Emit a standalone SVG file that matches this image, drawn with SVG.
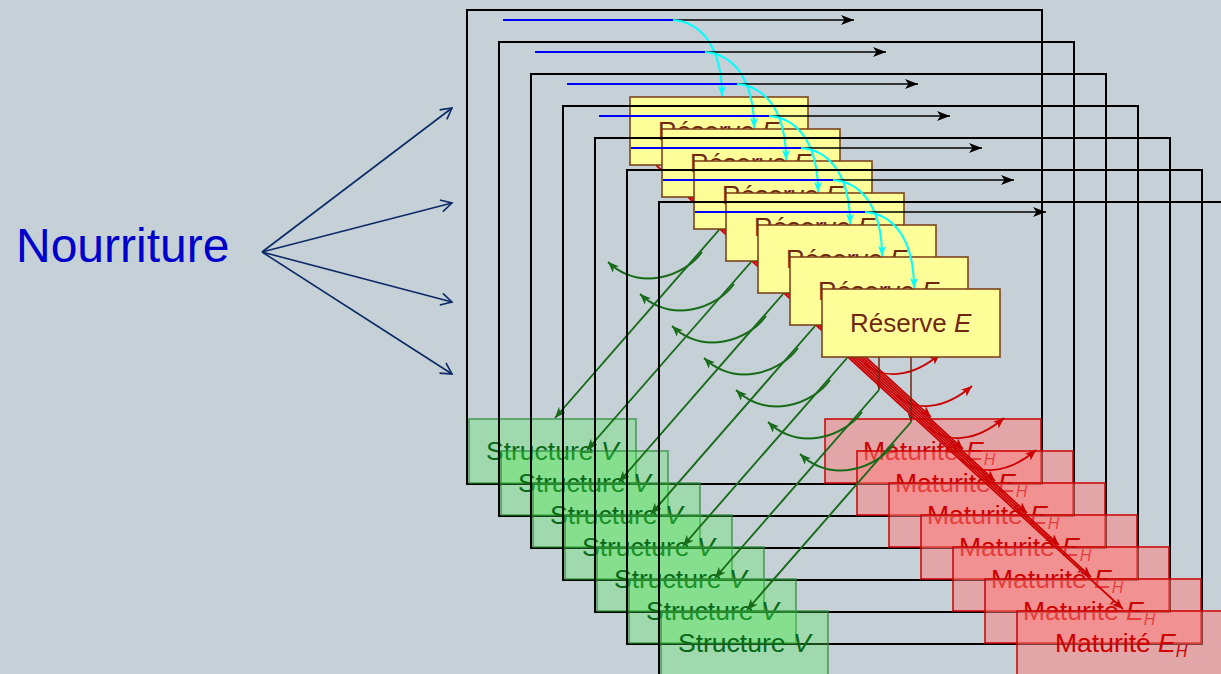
<svg xmlns="http://www.w3.org/2000/svg" width="1221" height="674" viewBox="0 0 1221 674">
<style>
.frame{fill:none;stroke:#000;stroke-width:2}
.blk{stroke:#000;stroke-width:1.6;marker-end:url(#mBlack)}
.blu{stroke:#0000ff;stroke-width:2}
.cy{fill:none;stroke:#00ffff;stroke-width:2;marker-end:url(#mCyan)}
.br{stroke:#6e2a10;stroke-width:1.5;marker-end:url(#mBrown)}
.gr{fill:none;stroke:#176a17;stroke-width:1.9;marker-end:url(#mGreen)}
.rd{fill:none;stroke:#cc0000;stroke-width:1.7;marker-end:url(#mRed)}
.nv{fill:none;stroke:#0c2a66;stroke-width:1.6;marker-end:url(#mNavy)}
text{font-family:"Liberation Sans",Arial,sans-serif;font-size:26px}
.reserve rect{fill:#ffff99;stroke:#7a3a14;stroke-width:1.5}
.reserve text{fill:#6e2810}
.structure rect{fill:rgb(77,240,77);fill-opacity:0.3;stroke:#2a8a36;stroke-width:1.5;stroke-opacity:0.8}
.structure text{fill:#0a6a18;font-size:26.5px}
.maturite rect{fill:#ff7c7a;fill-opacity:0.5;stroke:#cc0000;stroke-width:1.5}
.maturite text{fill:#cc0000;font-size:26.5px}
.it{font-style:italic}
.sub{font-style:italic;font-size:16px}
.title{font-size:48px;fill:#0000cc}
</style>
<defs>
<marker id="mBlack" markerUnits="userSpaceOnUse" markerWidth="13" markerHeight="11" refX="13" refY="5.5" orient="auto"><path d="M0,0.5 L13,5.5 L0,10.5 L3.5,5.5 z" fill="#000"/></marker>
<marker id="mCyan" markerUnits="userSpaceOnUse" markerWidth="10" markerHeight="8" refX="10" refY="4" orient="auto"><path d="M0,0 L10,4 L0,8 L2.5,4 z" fill="#00ffff"/></marker>
<marker id="mBrown" markerUnits="userSpaceOnUse" markerWidth="9" markerHeight="7" refX="9" refY="3.5" orient="auto"><path d="M0,0 L9,3.5 L0,7 L2.5,3.5 z" fill="#6e2a10"/></marker>
<marker id="mGreen" markerUnits="userSpaceOnUse" markerWidth="11" markerHeight="9" refX="11" refY="4.5" orient="auto"><path d="M0,0 L11,4.5 L0,9 L3,4.5 z" fill="#176a17"/></marker>
<marker id="mRed" markerUnits="userSpaceOnUse" markerWidth="11" markerHeight="9" refX="11" refY="4.5" orient="auto"><path d="M0,0 L11,4.5 L0,9 L3,4.5 z" fill="#cc0000"/></marker>
<marker id="mNavy" markerUnits="userSpaceOnUse" markerWidth="14" markerHeight="14" refX="12" refY="7" orient="auto" overflow="visible"><path d="M1,1 L12,7 L1,13" fill="none" stroke="#0c2a66" stroke-width="1.6"/></marker>
</defs>
<rect width="1221" height="674" fill="#c5d0d7"/>

<g id="nourriture"><text class="title" x="16" y="262">Nourriture</text></g>
<g id="connectors-food">
<line class="nv" x1="262" y1="252" x2="452" y2="108"/>
<line class="nv" x1="262" y1="252" x2="452" y2="203"/>
<line class="nv" x1="262" y1="252" x2="452" y2="302"/>
<line class="nv" x1="262" y1="252" x2="452" y2="374"/>
</g>

<g id="layer-0">
<rect class="frame" x="467" y="10" width="575" height="474"/>
<g id="connectors-0">
<line class="blk" x1="673" y1="20" x2="854" y2="20"/>
<line class="blu" x1="503" y1="20" x2="673" y2="20"/>
<path class="cy" d="M673,20 C700,22 722,45 722,96"/>
<line class="br" x1="719" y1="165" x2="719" y2="230"/>
<line class="gr" x1="719" y1="230" x2="555" y2="418"/>
<path class="gr" d="M702,252 C685,276 640,292 608,262"/>
<line class="rd" x1="656" y1="165" x2="931" y2="417"/>
<path class="rd" d="M768,267 C785,283 815,283 844,258"/>
</g>
<g id="reserve-0" class="reserve"><rect x="630" y="97" width="178" height="68"/><text x="658" y="140">Réserve <tspan class="it">E</tspan></text></g>
<g id="structure-0" class="structure"><rect x="469" y="419" width="167" height="64"/><text x="486" y="460">Structure <tspan class="it">V</tspan></text></g>
<g id="maturite-0" class="maturite"><rect x="825" y="419" width="216" height="64"/><text x="863" y="460">Maturité <tspan class="it">E</tspan><tspan class="sub" dy="5">H</tspan></text></g>
</g>

<g id="layer-1" transform="translate(32,32)">
<rect class="frame" x="467" y="10" width="575" height="474"/>
<g id="connectors-1">
<line class="blk" x1="673" y1="20" x2="854" y2="20"/>
<line class="blu" x1="503" y1="20" x2="673" y2="20"/>
<path class="cy" d="M673,20 C700,22 722,45 722,96"/>
<line class="br" x1="719" y1="165" x2="719" y2="230"/>
<line class="gr" x1="719" y1="230" x2="555" y2="418"/>
<path class="gr" d="M702,252 C685,276 640,292 608,262"/>
<line class="rd" x1="656" y1="165" x2="931" y2="417"/>
<path class="rd" d="M768,267 C785,283 815,283 844,258"/>
</g>
<g id="reserve-1" class="reserve"><rect x="630" y="97" width="178" height="68"/><text x="658" y="140">Réserve <tspan class="it">E</tspan></text></g>
<g id="structure-1" class="structure"><rect x="469" y="419" width="167" height="64"/><text x="486" y="460">Structure <tspan class="it">V</tspan></text></g>
<g id="maturite-1" class="maturite"><rect x="825" y="419" width="216" height="64"/><text x="863" y="460">Maturité <tspan class="it">E</tspan><tspan class="sub" dy="5">H</tspan></text></g>
</g>

<g id="layer-2" transform="translate(64,64)">
<rect class="frame" x="467" y="10" width="575" height="474"/>
<g id="connectors-2">
<line class="blk" x1="673" y1="20" x2="854" y2="20"/>
<line class="blu" x1="503" y1="20" x2="673" y2="20"/>
<path class="cy" d="M673,20 C700,22 722,45 722,96"/>
<line class="br" x1="719" y1="165" x2="719" y2="230"/>
<line class="gr" x1="719" y1="230" x2="555" y2="418"/>
<path class="gr" d="M702,252 C685,276 640,292 608,262"/>
<line class="rd" x1="656" y1="165" x2="931" y2="417"/>
<path class="rd" d="M768,267 C785,283 815,283 844,258"/>
</g>
<g id="reserve-2" class="reserve"><rect x="630" y="97" width="178" height="68"/><text x="658" y="140">Réserve <tspan class="it">E</tspan></text></g>
<g id="structure-2" class="structure"><rect x="469" y="419" width="167" height="64"/><text x="486" y="460">Structure <tspan class="it">V</tspan></text></g>
<g id="maturite-2" class="maturite"><rect x="825" y="419" width="216" height="64"/><text x="863" y="460">Maturité <tspan class="it">E</tspan><tspan class="sub" dy="5">H</tspan></text></g>
</g>

<g id="layer-3" transform="translate(96,96)">
<rect class="frame" x="467" y="10" width="575" height="474"/>
<g id="connectors-3">
<line class="blk" x1="673" y1="20" x2="854" y2="20"/>
<line class="blu" x1="503" y1="20" x2="673" y2="20"/>
<path class="cy" d="M673,20 C700,22 722,45 722,96"/>
<line class="br" x1="719" y1="165" x2="719" y2="230"/>
<line class="gr" x1="719" y1="230" x2="555" y2="418"/>
<path class="gr" d="M702,252 C685,276 640,292 608,262"/>
<line class="rd" x1="656" y1="165" x2="931" y2="417"/>
<path class="rd" d="M768,267 C785,283 815,283 844,258"/>
</g>
<g id="reserve-3" class="reserve"><rect x="630" y="97" width="178" height="68"/><text x="658" y="140">Réserve <tspan class="it">E</tspan></text></g>
<g id="structure-3" class="structure"><rect x="469" y="419" width="167" height="64"/><text x="486" y="460">Structure <tspan class="it">V</tspan></text></g>
<g id="maturite-3" class="maturite"><rect x="825" y="419" width="216" height="64"/><text x="863" y="460">Maturité <tspan class="it">E</tspan><tspan class="sub" dy="5">H</tspan></text></g>
</g>

<g id="layer-4" transform="translate(128,128)">
<rect class="frame" x="467" y="10" width="575" height="474"/>
<g id="connectors-4">
<line class="blk" x1="673" y1="20" x2="854" y2="20"/>
<line class="blu" x1="503" y1="20" x2="673" y2="20"/>
<path class="cy" d="M673,20 C700,22 722,45 722,96"/>
<line class="br" x1="719" y1="165" x2="719" y2="230"/>
<line class="gr" x1="719" y1="230" x2="555" y2="418"/>
<path class="gr" d="M702,252 C685,276 640,292 608,262"/>
<line class="rd" x1="656" y1="165" x2="931" y2="417"/>
<path class="rd" d="M768,267 C785,283 815,283 844,258"/>
</g>
<g id="reserve-4" class="reserve"><rect x="630" y="97" width="178" height="68"/><text x="658" y="140">Réserve <tspan class="it">E</tspan></text></g>
<g id="structure-4" class="structure"><rect x="469" y="419" width="167" height="64"/><text x="486" y="460">Structure <tspan class="it">V</tspan></text></g>
<g id="maturite-4" class="maturite"><rect x="825" y="419" width="216" height="64"/><text x="863" y="460">Maturité <tspan class="it">E</tspan><tspan class="sub" dy="5">H</tspan></text></g>
</g>

<g id="layer-5" transform="translate(160,160)">
<rect class="frame" x="467" y="10" width="575" height="474"/>
<g id="connectors-5">
<line class="blk" x1="673" y1="20" x2="854" y2="20"/>
<line class="blu" x1="503" y1="20" x2="673" y2="20"/>
<path class="cy" d="M673,20 C700,22 722,45 722,96"/>
<line class="br" x1="719" y1="165" x2="719" y2="230"/>
<line class="gr" x1="719" y1="230" x2="555" y2="418"/>
<path class="gr" d="M702,252 C685,276 640,292 608,262"/>
<line class="rd" x1="656" y1="165" x2="931" y2="417"/>
<path class="rd" d="M768,267 C785,283 815,283 844,258"/>
</g>
<g id="reserve-5" class="reserve"><rect x="630" y="97" width="178" height="68"/><text x="658" y="140">Réserve <tspan class="it">E</tspan></text></g>
<g id="structure-5" class="structure"><rect x="469" y="419" width="167" height="64"/><text x="486" y="460">Structure <tspan class="it">V</tspan></text></g>
<g id="maturite-5" class="maturite"><rect x="825" y="419" width="216" height="64"/><text x="863" y="460">Maturité <tspan class="it">E</tspan><tspan class="sub" dy="5">H</tspan></text></g>
</g>

<g id="layer-6" transform="translate(192,192)">
<rect class="frame" x="467" y="10" width="575" height="474"/>
<g id="connectors-6">
<line class="blk" x1="673" y1="20" x2="854" y2="20"/>
<line class="blu" x1="503" y1="20" x2="673" y2="20"/>
<path class="cy" d="M673,20 C700,22 722,45 722,96"/>
<line class="br" x1="719" y1="165" x2="719" y2="230"/>
<line class="gr" x1="719" y1="230" x2="555" y2="418"/>
<path class="gr" d="M702,252 C685,276 640,292 608,262"/>
<line class="rd" x1="656" y1="165" x2="931" y2="417"/>
<path class="rd" d="M768,267 C785,283 815,283 844,258"/>
</g>
<g id="reserve-6" class="reserve"><rect x="630" y="97" width="178" height="68"/><text x="658" y="140">Réserve <tspan class="it">E</tspan></text></g>
<g id="structure-6" class="structure"><rect x="469" y="419" width="167" height="64"/><text x="486" y="460">Structure <tspan class="it">V</tspan></text></g>
<g id="maturite-6" class="maturite"><rect x="825" y="419" width="216" height="64"/><text x="863" y="460">Maturité <tspan class="it">E</tspan><tspan class="sub" dy="5">H</tspan></text></g>
</g>
</svg>
